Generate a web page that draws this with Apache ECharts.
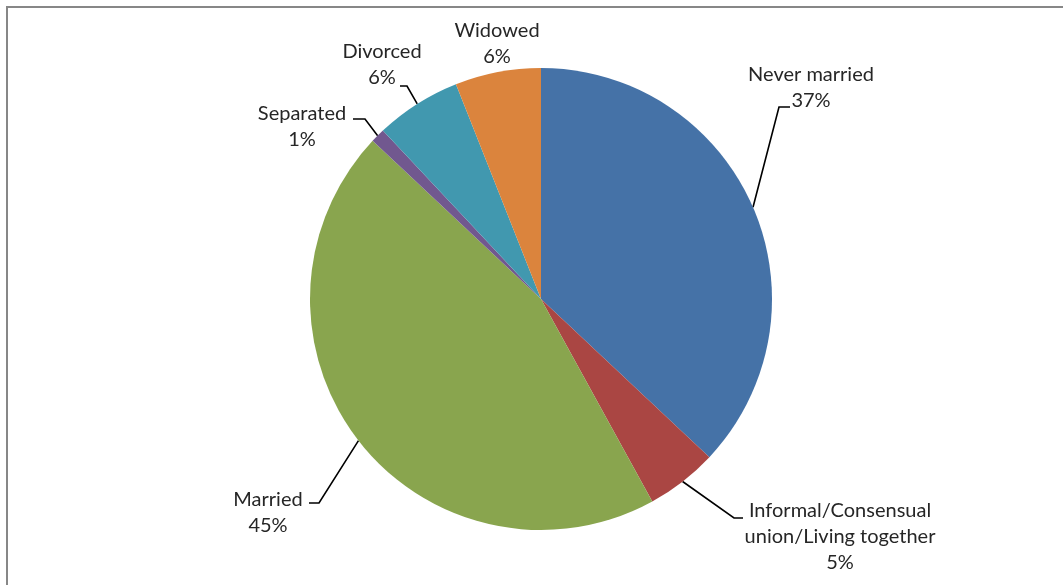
<!DOCTYPE html>
<html>
<head>
<meta charset="utf-8">
<script src="https://cdn.jsdelivr.net/npm/echarts@6/dist/echarts.min.js"></script>
<style>
  html, body { margin: 0; padding: 0; background: #ffffff; }
  #chart { width: 1063px; height: 585px; }
</style>
</head>
<body>
<div id="chart"></div>
<script>
// Marital status shares (percent)
const categories = [
  'Never married',
  'Informal/Consensual\nunion/Living together',
  'Married',
  'Separated',
  'Divorced',
  'Widowed'
];
const shares = [37, 5, 45, 1, 6, 6];
const sliceColors = ['#4572A7', '#AA4643', '#89A54E', '#71588F', '#4198AF', '#DB843D'];

// Label placement: centre of each text block, plus the leader line's
// elbow and end points given as offsets from that centre.
const labelPlacement = [
  { x: 811, y: 88,  elbow: [-32, 19],  end: [-21, 19] },
  { x: 840, y: 537, elbow: [-106, -19], end: [-97, -19] },
  { x: 268, y: 513, elbow: [51, -10],  end: [41, -10] },
  { x: 302, y: 127, elbow: [63, -8],   end: [51, -8] },
  { x: 382, y: 65,  elbow: [25, 21],   end: [18, 21] },
  { x: 497, y: 44,  elbow: null,       end: null }
];

const chart = echarts.init(document.getElementById('chart'), null, { renderer: 'canvas' });

const seriesData = categories.map((name, i) => ({
  name: name,
  value: shares[i],
  itemStyle: { color: sliceColors[i] }
}));

chart.setOption({
  animation: false,
  backgroundColor: '#ffffff',
  graphic: [{
    type: 'rect',
    shape: { x: 7, y: 7, width: 1200, height: 700 },
    style: { fill: 'none', stroke: '#878787', lineWidth: 2 },
    silent: true,
    z: 100
  }],
  series: [{
    type: 'pie',
    center: [541, 299],
    radius: 231,
    startAngle: 90,
    clockwise: true,
    avoidLabelOverlap: false,
    data: seriesData,
    itemStyle: { borderWidth: 0 },
    label: {
      show: true,
      position: 'outside',
      formatter: p => '{t|' + p.name + '}\n{t|' + Math.round(p.percent) + '%}',
      rich: {
        t: {
          fontFamily: 'Lato, "Open Sans", sans-serif',
          fontSize: 20,
          lineHeight: 26,
          color: '#262626',
          align: 'center'
        }
      }
    },
    labelLine: {
      show: true,
      smooth: false,
      lineStyle: { color: '#000000', width: 1.6 }
    },
    labelLayout: function (params) {
      const pl = labelPlacement[params.dataIndex];
      const edge = params.labelLinePoints ? params.labelLinePoints[0] : null;
      const out = { x: pl.x, y: pl.y, align: 'center', verticalAlign: 'middle' };
      if (edge && pl.end) {
        out.labelLinePoints = [
          edge,
          [pl.x + pl.elbow[0], pl.y + pl.elbow[1]],
          [pl.x + pl.end[0], pl.y + pl.end[1]]
        ];
      } else if (edge) {
        out.labelLinePoints = [edge, edge, edge];
      }
      return out;
    }
  }]
});
</script>
</body>
</html>
